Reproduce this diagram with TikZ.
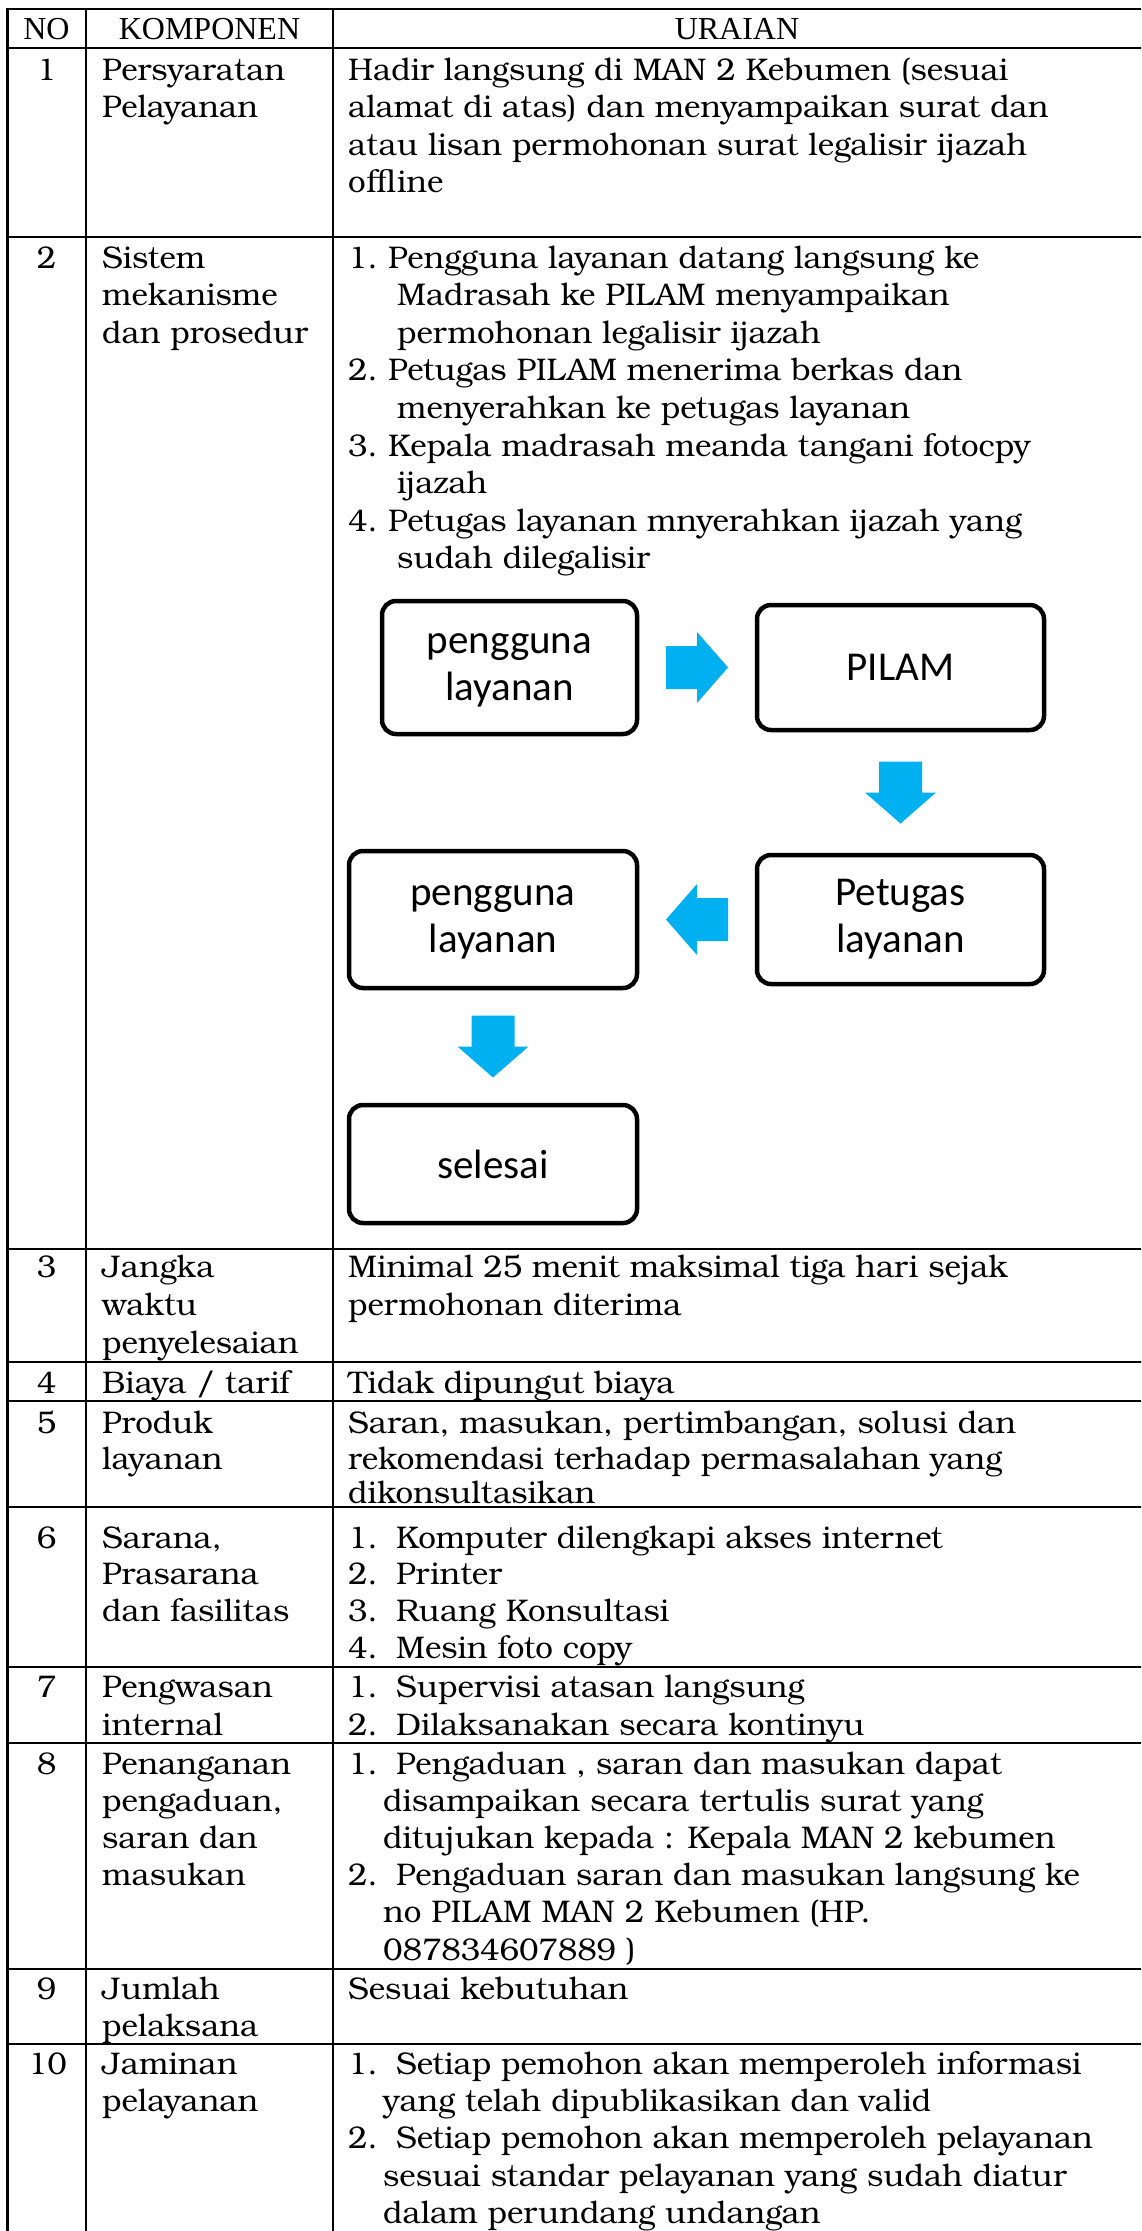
\documentclass[tikz,border=0pt]{standalone}
\usepackage{fontspec}
\setmainfont{Liberation Serif}
\newfontfamily\calibfont{Carlito}
\newfontfamily\bookfont{TeX Gyre Bonum}
\usetikzlibrary{calc}
\definecolor{arrowblue}{HTML}{00B0F0}

\tikzset{
  blockarrow/.pic={\fill[arrowblue] (-31,-21.5) -- (0,-21.5) -- (0,-35.5) -- (31,0)
      -- (0,35.5) -- (0,21.5) -- (-31,21.5) -- cycle;}
}

\begin{document}
\begin{tikzpicture}[x=1pt,y=-1pt,
  rule/.style={line width=2.6pt},
  hd/.style={anchor=base, inner sep=0pt, font=\fontsize{32}{38}\selectfont},
  txt/.style={anchor=base west, inner sep=0pt, font=\bookfont\fontsize{31.3}{38}\selectfont},
  num/.style={anchor=base, inner sep=0pt, font=\bookfont\fontsize{31.3}{38}\selectfont},
  flowbox/.style={draw, line width=4.5pt, rounded corners=14pt, align=center,
      inner sep=0pt, font=\calibfont\fontsize{41}{47}\selectfont},
]
\useasboundingbox (0,0) rectangle (1141,2231);
\clip (0,0) rectangle (1141,2231);

% table rules
\foreach \yy in {9,48,237,1249,1362,1401,1507,1667,1743,1969,2044}
  \draw[rule] (6,\yy) -- (1150,\yy);
\foreach \xx in {7.3,86,333}
  \draw[rule] (\xx,7.7) -- (\xx,2240);

% header
\node[hd] (hNO)   at (46.5,39) {NO};
\node[hd] (hKOMP) at (209.5,39) {KOMPONEN};
\node[hd] (hURAI) at (737,39) {URAIAN};

% row 1
\node[num] (n1) at (46.5,80) {1};
\node[txt] (k1a) at (102,80) {Persyaratan};
\node[txt] (k1b) at (102,117.5) {Pelayanan};
\node[txt] (u1a) at (348,80) {Hadir langsung di MAN 2 Kebumen (sesuai};
\node[txt] (u1b) at (348,117.5) {alamat di atas) dan menyampaikan surat dan};
\node[txt] (u1c) at (348,155) {atau lisan permohonan surat legalisir ijazah};
\node[txt] (u1d) at (348,192.5) {offline};

% row 2
\node[num] (n2) at (46.5,268) {2};
\node[txt] (k2a) at (102,268) {Sistem};
\node[txt] (k2b) at (102,305.6) {mekanisme};
\node[txt] (k2c) at (102,343.2) {dan prosedur};
\node[txt] (p21n) at (348,268) {1.};
\node[txt] (p21a) at (388,268) {Pengguna layanan datang langsung ke};
\node[txt] (p21b) at (397,305.6) {Madrasah ke PILAM menyampaikan};
\node[txt] (p21c) at (397,343.2) {permohonan legalisir ijazah};
\node[txt] (p22n) at (348,380.8) {2.};
\node[txt] (p22a) at (388,380.8) {Petugas PILAM menerima berkas dan};
\node[txt] (p22b) at (397,418.4) {menyerahkan ke petugas layanan};
\node[txt] (p23n) at (348,456) {3.};
\node[txt] (p23a) at (388,456) {Kepala madrasah meanda tangani fotocpy};
\node[txt] (p23b) at (397,493.6) {ijazah};
\node[txt] (p24n) at (348,531.2) {4.};
\node[txt] (p24a) at (388,531.2) {Petugas layanan mnyerahkan ijazah yang};
\node[txt] (p24b) at (397,568.8) {sudah dilegalisir};

% flow of the service
\node[flowbox, minimum width=255, minimum height=133] (b1) at (509.5,667.5) {\vphantom{P}pengguna\\layanan};
\node[flowbox, minimum width=287, minimum height=125] (b2) at (900.5,667.5) {PILAM};
\node[flowbox, minimum width=287, minimum height=129] (b4) at (900.5,919.5) {Petugas\\layanan};
\node[flowbox, minimum width=288, minimum height=137] (b3) at (493,919.5) {\vphantom{P}pengguna\\layanan};
\node[flowbox, minimum width=288, minimum height=118] (b5) at (493,1164) {selesai};

\pic at ($(b1.east)!0.5!(b2.west)$) {blockarrow};
\pic[rotate=-90] at ($(b2.south)!0.5!(b4.north)$) {blockarrow};
\pic[rotate=180] at ($(b4.west)!0.5!(b3.east)$) {blockarrow};
\pic[rotate=-90] at ($(b3.south)!0.5!(b5.north)$) {blockarrow};

% row 3
\node[num] (n3) at (46.5,1277) {3};
\node[txt] (k3a) at (102,1277) {Jangka};
\node[txt] (k3b) at (102,1315) {waktu};
\node[txt] (k3c) at (102,1353) {penyelesaian};
\node[txt] (u3a) at (348,1277) {Minimal 25 menit maksimal tiga hari sejak};
\node[txt] (u3b) at (348,1315) {permohonan diterima};

% row 4
\node[num] (n4) at (46.5,1393) {4};
\node[txt] (k4a) at (102,1393) {Biaya / tarif};
\node[txt] (u4a) at (348,1393) {Tidak dipungut biaya};

% row 5
\node[num] (n5) at (46.5,1433) {5};
\node[txt] (k5a) at (102,1433) {Produk};
\node[txt] (k5b) at (102,1469) {layanan};
\node[txt] (u5a) at (348,1433) {Saran, masukan, pertimbangan, solusi dan};
\node[txt] (u5b) at (348,1469) {rekomendasi terhadap permasalahan yang};
\node[txt] (u5c) at (348,1503) {dikonsultasikan};

% row 6
\node[num] (n6) at (46.5,1548) {6};
\node[txt] (k6a) at (102,1548) {Sarana,};
\node[txt] (k6b) at (102,1584.7) {Prasarana};
\node[txt] (k6c) at (102,1621.4) {dan fasilitas};
\node[txt] (p61n) at (348,1548) {1.};
\node[txt] (p61a) at (396,1548) {Komputer dilengkapi akses internet};
\node[txt] (p62n) at (348,1584.7) {2.};
\node[txt] (p62a) at (396,1584.7) {Printer};
\node[txt] (p63n) at (348,1621.4) {3.};
\node[txt] (p63a) at (396,1621.4) {Ruang Konsultasi};
\node[txt] (p64n) at (348,1658) {4.};
\node[txt] (p64a) at (396,1658) {Mesin foto copy};

% row 7
\node[num] (n7) at (46.5,1697) {7};
\node[txt] (k7a) at (102,1697) {Pengwasan};
\node[txt] (k7b) at (102,1735) {internal};
\node[txt] (p71n) at (348,1697) {1.};
\node[txt] (p71a) at (396,1697) {Supervisi atasan langsung};
\node[txt] (p72n) at (348,1735) {2.};
\node[txt] (p72a) at (396,1735) {Dilaksanakan secara kontinyu};

% row 8
\node[num] (n8) at (46.5,1774) {8};
\node[txt] (k8a) at (102,1774) {Penanganan};
\node[txt] (k8b) at (102,1811) {pengaduan,};
\node[txt] (k8c) at (102,1848.4) {saran dan};
\node[txt] (k8d) at (102,1885.6) {masukan};
\node[txt] (p81n) at (348,1774) {1.};
\node[txt] (p81a) at (396,1774) {Pengaduan , saran dan masukan dapat};
\node[txt] (p81b) at (383,1811) {disampaikan secara tertulis surat yang};
\node[txt] (p81c) at (383,1848.4) {ditujukan kepada : Kepala MAN 2 kebumen};
\node[txt] (p82n) at (348,1885.6) {2.};
\node[txt] (p82a) at (396,1885.6) {Pengaduan saran dan masukan langsung ke};
\node[txt] (p82b) at (383,1922.8) {no PILAM MAN 2 Kebumen (HP.};
\node[txt] (p82c) at (383,1960) {087834607889 )};

% row 9
\node[num] (n9) at (46.5,1999) {9};
\node[txt] (k9a) at (102,1999) {Jumlah};
\node[txt] (k9b) at (102,2036) {pelaksana};
\node[txt] (u9a) at (348,1999) {Sesuai kebutuhan};

% row 10
\node[num] (n10) at (47.5,2074) {10};
\node[txt] (k10a) at (102,2074) {Jaminan};
\node[txt] (k10b) at (102,2111) {pelayanan};
\node[txt] (p101n) at (348,2074) {1.};
\node[txt] (p101a) at (396,2074) {Setiap pemohon akan memperoleh informasi};
\node[txt] (p101b) at (383,2111) {yang telah dipublikasikan dan valid};
\node[txt] (p102n) at (348,2148.6) {2.};
\node[txt] (p102a) at (396,2148.6) {Setiap pemohon akan memperoleh pelayanan};
\node[txt] (p102b) at (383,2186) {sesuai standar pelayanan yang sudah diatur};
\node[txt] (p102c) at (383,2223) {dalam perundang undangan};
\end{tikzpicture}
\end{document}
